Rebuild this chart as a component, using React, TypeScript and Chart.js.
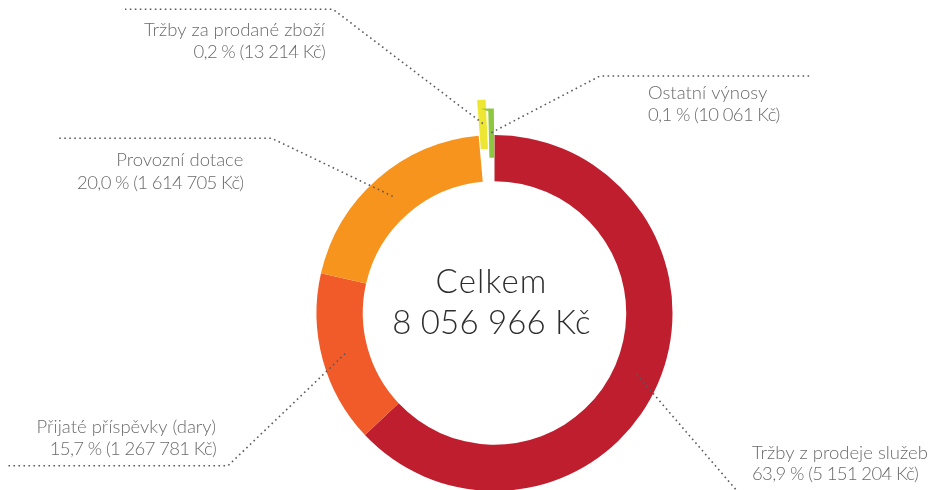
import React, { useEffect, useRef } from "react";
import { Chart, registerables } from "chart.js";

Chart.register(...registerables);

// ---- data ----
const categories = [
  "Tržby z prodeje služeb",
  "Přijaté příspěvky (dary)",
  "Provozní dotace",
  "Tržby za prodané zboží",
  "Ostatní výnosy",
];
const amountsKc = [5151204, 1267781, 1614705, 13214, 10061];
const percentLabels = ["63,9 %", "15,7 %", "20,0 %", "0,2 %", "0,1 %"];
const amountLabels = ["5 151 204 Kč", "1 267 781 Kč", "1 614 705 Kč", "13 214 Kč", "10 061 Kč"];
// arc sizes as drawn in the picture (%); the two tiny items are enlarged there
const arcShares = [62.97, 15.61, 20.0, 0.88, 0.54];
const centerTitle = "Celkem";
const totalLabel = "8 056 966 Kč";

// ---- styles / layout ----
const colors = ["#BE1E2D", "#F15A29", "#F7941D", "#EDE734", "#8DC63F"];
const sliceOffsets = [0, 0, 0, 70, 51];
const sliceBorders = [0, 0, 0, 3, 3];

type LabelLayout = {
  x: number;
  baselines: number[];
  align: CanvasTextAlign;
  path: number[][];
};
const labelLayout: LabelLayout[] = [
  { x: 752, baselines: [459, 479.5], align: "left", path: [[738, 492], [947, 492]] },
  { x: 216, baselines: [433.3, 455], align: "right", path: [[228, 465.7], [8, 465.7]] },
  { x: 243.3, baselines: [165.7, 189], align: "right", path: [[271.7, 138.3], [56.7, 138.3]] },
  { x: 325, baselines: [36, 58.3], align: "right", path: [[333, 9.3], [125, 9.3]] },
  { x: 648, baselines: [99.3, 121], align: "left", path: [[600, 76], [810, 76]] },
];

const LABEL_FONT = "300 18.5px Lato, 'Open Sans', sans-serif";
const CENTER_FONT = "300 33px Lato, 'Open Sans', sans-serif";

const leaderLabels = {
  id: "leaderLabels",
  afterDatasetsDraw(chart: any) {
    const ctx: any = chart.ctx;
    const meta = chart.getDatasetMeta(0);
    ctx.save();
    meta.data.forEach((arc: any, i: number) => {
      const p = arc.getCenterPoint();
      const L = labelLayout[i];
      ctx.beginPath();
      ctx.moveTo(p.x, p.y);
      L.path.forEach(([x, y]) => ctx.lineTo(x, y));
      ctx.setLineDash([1.6, 3.4]);
      ctx.lineWidth = 1.6;
      ctx.lineCap = "butt";
      ctx.strokeStyle = "#5a5a5a";
      ctx.stroke();

      ctx.setLineDash([]);
      ctx.font = LABEL_FONT;
      ctx.fillStyle = "#6b6b6b";
      ctx.textAlign = L.align;
      ctx.textBaseline = "alphabetic";
      ctx.letterSpacing = "0px";
      ctx.fillText(chart.data.labels[i], L.x, L.baselines[0]);
      ctx.letterSpacing = "-0.65px";
      ctx.fillText(`${percentLabels[i]} (${amountLabels[i]})`, L.x, L.baselines[1]);
    });

    const cx = meta.data[0].x - 3;
    const cy = meta.data[0].y;
    ctx.font = CENTER_FONT;
    ctx.fillStyle = "#2e2e2e";
    ctx.textAlign = "center";
    ctx.letterSpacing = "1.2px";
    ctx.fillText(centerTitle, cx, cy - 20);
    ctx.letterSpacing = "0.2px";
    ctx.fillText(totalLabel, cx, cy + 20.7);
    ctx.restore();
  },
};

export default function App() {
  const canvasRef = useRef<HTMLCanvasElement | null>(null);

  useEffect(() => {
    if (!canvasRef.current) return;
    const chart = new Chart(canvasRef.current, {
      type: "doughnut",
      data: {
        labels: categories,
        datasets: [
          {
            data: arcShares,
            backgroundColor: colors,
            borderColor: colors,
            borderWidth: sliceBorders,
            borderJoinStyle: "miter",
            offset: sliceOffsets,
            clip: false,
          } as any,
        ],
      },
      options: {
        animation: false,
        responsive: false,
        cutout: "74%",
        radius: 178,
        rotation: 0,
        layout: { padding: { left: 42, top: 136, right: 0, bottom: 0 } },
        plugins: {
          legend: { display: false },
          tooltip: { enabled: false },
        },
      },
      plugins: [leaderLabels],
    });
    return () => chart.destroy();
  }, []);

  return (
    <div style={{ position: "absolute", left: 0, top: 0, width: 947, height: 490, background: "#fff" }}>
      <canvas ref={canvasRef} width={947} height={490} style={{ width: 947, height: 490 }} />
    </div>
  );
}
